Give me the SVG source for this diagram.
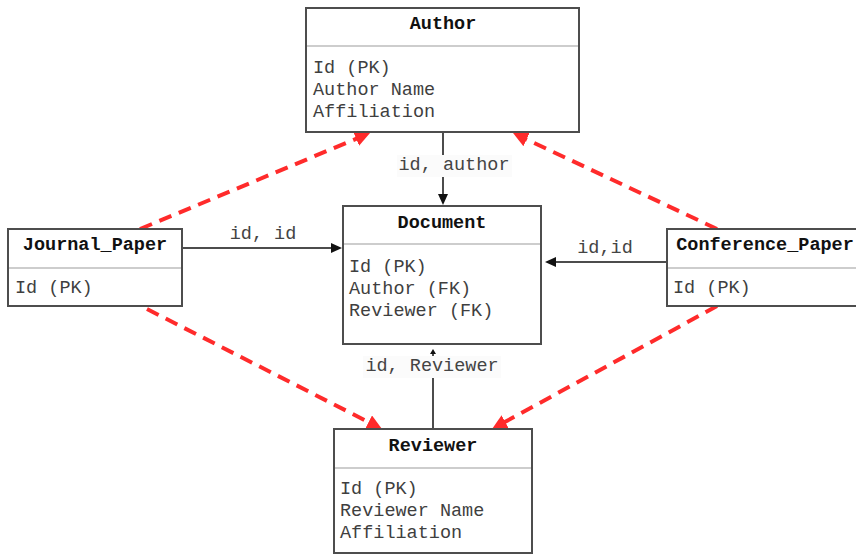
<svg xmlns="http://www.w3.org/2000/svg" width="856" height="554" viewBox="0 0 856 554">
<defs>
<style>
.box{fill:#fff;stroke:#4d4d4d;stroke-width:2}
.sep{stroke:#bdbdbd;stroke-width:1.5}
.title{font-family:"Liberation Mono","Courier New",monospace;font-size:18.5px;font-weight:bold;fill:#111;text-anchor:middle}
.attr{font-family:"Liberation Mono","Courier New",monospace;font-size:18.5px;fill:#3f3f3f}
.lbl{font-family:"Liberation Mono","Courier New",monospace;font-size:18.5px;fill:#444;text-anchor:middle}
.lblbg{fill:#fbfbfb}
.fk{fill:none;stroke:#111;stroke-width:1.5}
.inh{fill:none;stroke:#ff2b2b;stroke-width:4;stroke-dasharray:13 8}
</style>
<marker id="blk" markerUnits="userSpaceOnUse" markerWidth="12" markerHeight="10" refX="1" refY="5" orient="auto">
<path d="M0,0 L11,5 L0,10 z" fill="#111"/>
</marker>
<marker id="blksm" markerUnits="userSpaceOnUse" markerWidth="6" markerHeight="6" refX="1" refY="3" orient="auto">
<path d="M0,0 L5,3 L0,6 z" fill="#111"/>
</marker>
<marker id="red" markerUnits="userSpaceOnUse" markerWidth="16" markerHeight="16" refX="1" refY="7.5" orient="auto">
<path d="M0,0 L15,7.5 L0,15 z" fill="#ff2b2b"/>
</marker>
</defs>
<rect width="856" height="554" fill="#fff"/>

<g id="connectors">
<line class="inh" x1="140" y1="229" x2="357.1" y2="138.4" marker-end="url(#red)"/>
<line class="inh" x1="717" y1="229" x2="525.7" y2="139" marker-end="url(#red)"/>
<line class="inh" x1="147" y1="309" x2="369.5" y2="422.6" marker-end="url(#red)"/>
<line class="inh" x1="717" y1="306" x2="504.3" y2="422.3" marker-end="url(#red)"/>

<line class="fk" x1="443" y1="132" x2="443" y2="195" marker-end="url(#blk)"/>
<line class="fk" x1="182" y1="248" x2="332" y2="248" marker-end="url(#blk)"/>
<line class="fk" x1="667" y1="262" x2="555" y2="262" marker-end="url(#blk)"/>
<line class="fk" x1="433" y1="429" x2="433" y2="353" marker-end="url(#blksm)"/>

<rect class="lblbg" x="397" y="155" width="115" height="22"/>
<text class="lbl" x="454" y="170">id, author</text>
<text class="lbl" x="263" y="239">id, id</text>
<text class="lbl" x="605" y="253">id,id</text>
<rect class="lblbg" x="363" y="356" width="138" height="22"/>
<text class="lbl" x="432" y="371">id, Reviewer</text>
</g>

<g id="author">
<rect class="box" x="306" y="8" width="273" height="124"/>
<line class="sep" x1="307" y1="46" x2="578" y2="46"/>
<text class="title" x="443" y="29">Author</text>
<text class="attr" x="313" y="73">Id (PK)</text>
<text class="attr" x="313" y="95">Author Name</text>
<text class="attr" x="313" y="117">Affiliation</text>
</g>

<g id="document">
<rect class="box" x="343" y="206" width="198" height="138"/>
<line class="sep" x1="344" y1="244" x2="540" y2="244"/>
<text class="title" x="442" y="228">Document</text>
<text class="attr" x="349" y="272">Id (PK)</text>
<text class="attr" x="349" y="294">Author (FK)</text>
<text class="attr" x="349" y="316">Reviewer (FK)</text>
</g>

<g id="journal_paper">
<rect class="box" x="8" y="229" width="174" height="77"/>
<line class="sep" x1="9" y1="268" x2="181" y2="268"/>
<text class="title" x="95" y="250">Journal_Paper</text>
<text class="attr" x="15" y="293">Id (PK)</text>
</g>

<g id="conference_paper">
<rect class="box" x="667" y="229" width="198" height="77"/>
<line class="sep" x1="668" y1="268" x2="856" y2="268"/>
<text class="title" x="765" y="250">Conference_Paper</text>
<text class="attr" x="673" y="293">Id (PK)</text>
</g>

<g id="reviewer">
<rect class="box" x="334" y="429" width="198" height="124"/>
<line class="sep" x1="335" y1="468" x2="531" y2="468"/>
<text class="title" x="433" y="451">Reviewer</text>
<text class="attr" x="340" y="494">Id (PK)</text>
<text class="attr" x="340" y="516">Reviewer Name</text>
<text class="attr" x="340" y="538">Affiliation</text>
</g>
</svg>
